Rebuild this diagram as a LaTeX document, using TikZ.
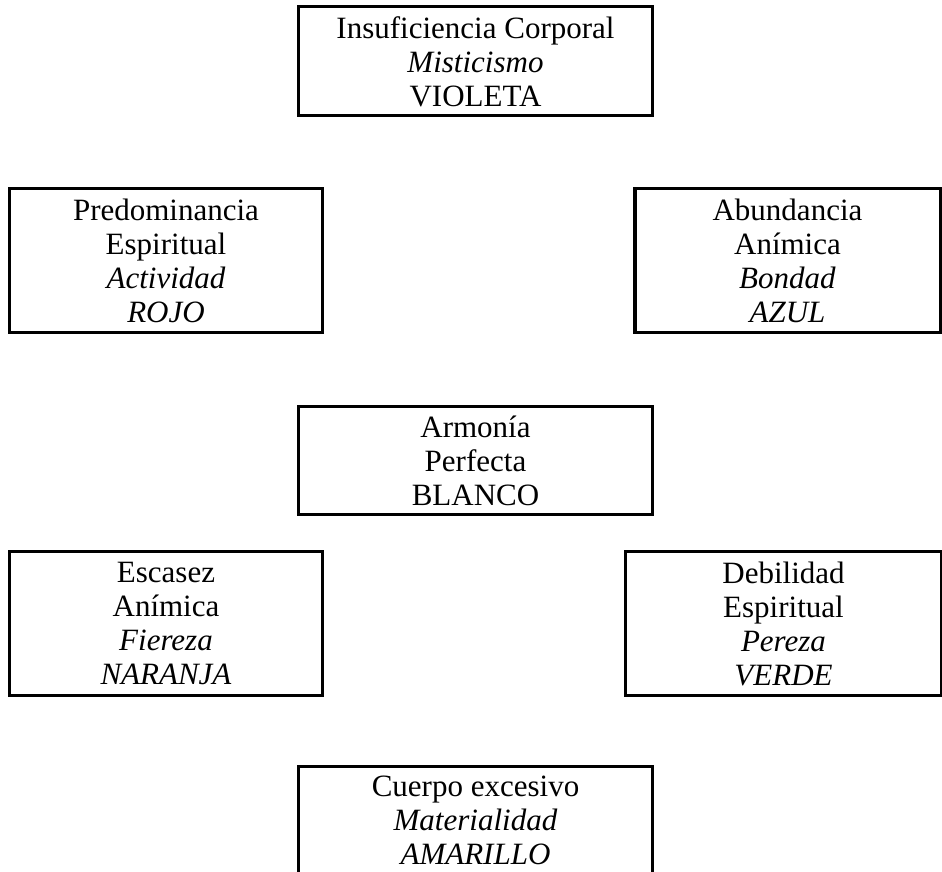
\documentclass[tikz,border=0pt]{standalone}
\usepackage{fontspec}
\setmainfont{Liberation Serif}
\begin{document}
\begin{tikzpicture}[x=0.4pt,y=-0.4pt,
  box/.style={draw, line width=1.2pt, inner sep=0pt, align=center,
    font=\fontsize{12.4}{13.6}\selectfont},
  wide/.style={minimum width=141.2pt},
  side/.style={minimum height=57.6pt}]
\useasboundingbox (0,0) rectangle (942,872);
\clip (0,0) rectangle (942,872);
\node[box, wide, minimum height=43.6pt] (top) at (475.5,61.5)
  {Insuficiencia Corporal\\\textit{Misticismo}\\VIOLETA};
\node[box, side, minimum width=124.8pt] (left) at (166,261)
  {Predominancia\\Espiritual\\\textit{Actividad}\\\textit{ROJO}};
\node[box, side, minimum width=122pt] (right) at (787.5,261)
  {Abundancia\\Anímica\\\textit{Bondad}\\\textit{AZUL}};
\node[box, wide, minimum height=43.2pt] (center) at (475.5,461)
  {Armonía\\Perfecta\\BLANCO};
\node[box, side, minimum width=124.8pt] (bleft) at (166,624)
  {Escasez\\Anímica\\\textit{Fiereza}\\\textit{NARANJA}};
\node[box, side, minimum width=126pt] (bright) at (783.5,624)
  {Debilidad\\Espiritual\\\textit{Pereza}\\\textit{VERDE}};
\node[box, wide, minimum height=49.2pt, text depth=7pt] (bottom) at (475.5,828.5)
  {Cuerpo excesivo\\\textit{Materialidad}\\\textit{AMARILLO}};
\end{tikzpicture}
\end{document}
